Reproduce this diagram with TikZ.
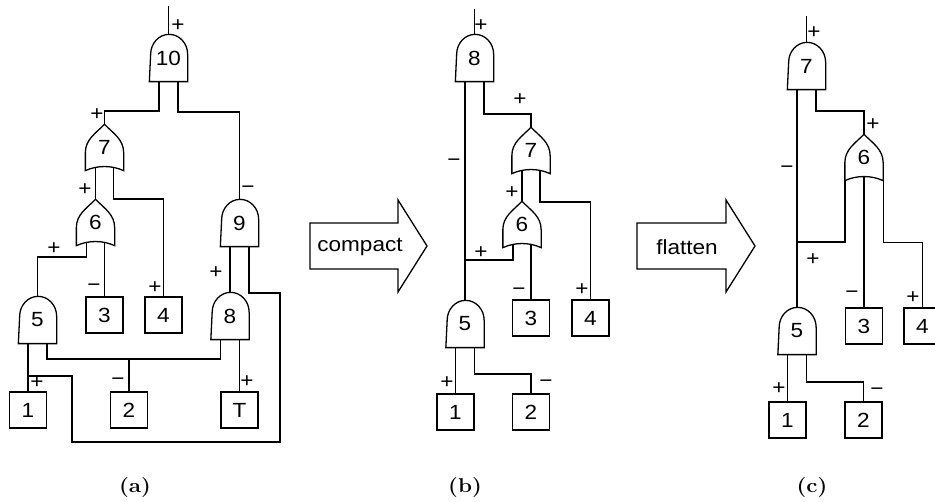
\documentclass[tikz,border=0pt]{standalone}
\usepackage{fontspec}
\usepackage{graphicx}
\newfontfamily\labfont[FakeStretch=1.1]{Liberation Sans}
\usetikzlibrary{backgrounds}
\newdimen\gatexa \newdimen\gateya \newdimen\gatexb \newdimen\gateyb \newdimen\gatexc
\pgfdeclareshape{andgate}{
  \inheritsavedanchors[from=rectangle]
  \inheritanchorborder[from=rectangle]
  \inheritanchor[from=rectangle]{center}
  \inheritanchor[from=rectangle]{north}
  \inheritanchor[from=rectangle]{south}
  \inheritanchor[from=rectangle]{east}
  \inheritanchor[from=rectangle]{west}
  \inheritanchor[from=rectangle]{north east}
  \inheritanchor[from=rectangle]{north west}
  \inheritanchor[from=rectangle]{south east}
  \inheritanchor[from=rectangle]{south west}
  \inheritanchor[from=rectangle]{text}
  \inheritanchor[from=rectangle]{base}
  \inheritanchor[from=rectangle]{mid}
  \backgroundpath{
    \pgfextractx{\gatexa}{\southwest}\pgfextracty{\gateya}{\southwest}
    \pgfextractx{\gatexb}{\northeast}\pgfextracty{\gateyb}{\northeast}
    \pgfpathmoveto{\pgfqpoint{\gatexa}{\gateya}}
    \pgfpathlineto{\pgfqpoint{\gatexb}{\gateya}}
    \pgfpathlineto{\pgfpoint{\gatexb}{\gateyb-20pt}}
    \pgfpatharc{0}{180}{18.5pt and 20pt}
    \pgfpathclose
  }
}
\pgfdeclareshape{orgate}{
  \inheritsavedanchors[from=rectangle]
  \inheritanchorborder[from=rectangle]
  \inheritanchor[from=rectangle]{center}
  \inheritanchor[from=rectangle]{north}
  \inheritanchor[from=rectangle]{south}
  \inheritanchor[from=rectangle]{east}
  \inheritanchor[from=rectangle]{west}
  \inheritanchor[from=rectangle]{north east}
  \inheritanchor[from=rectangle]{north west}
  \inheritanchor[from=rectangle]{south east}
  \inheritanchor[from=rectangle]{south west}
  \inheritanchor[from=rectangle]{text}
  \inheritanchor[from=rectangle]{base}
  \inheritanchor[from=rectangle]{mid}
  \backgroundpath{
    \pgfextractx{\gatexa}{\southwest}\pgfextracty{\gateya}{\southwest}
    \pgfextractx{\gatexb}{\northeast}\pgfextracty{\gateyb}{\northeast}
    \gatexc=.5\gatexa \advance\gatexc by .5\gatexb
    \pgfpathmoveto{\pgfqpoint{\gatexa}{\gateya}}
    \pgfpathlineto{\pgfpoint{\gatexa}{\gateya+18pt}}
    \pgfpathcurveto{\pgfpoint{\gatexa}{\gateya+31pt}}{\pgfpoint{\gatexc-9pt}{\gateyb-9pt}}{\pgfqpoint{\gatexc}{\gateyb}}
    \pgfpathcurveto{\pgfpoint{\gatexc+9pt}{\gateyb-9pt}}{\pgfpoint{\gatexb}{\gateya+31pt}}{\pgfpoint{\gatexb}{\gateya+18pt}}
    \pgfpathlineto{\pgfqpoint{\gatexb}{\gateya}}
    \pgfpathcurveto{\pgfpoint{\gatexc+7pt}{\gateya+5.5pt}}{\pgfpoint{\gatexc-7pt}{\gateya+5.5pt}}{\pgfqpoint{\gatexa}{\gateya}}
    \pgfpathclose
  }
}
\begin{document}
\begin{tikzpicture}[x=1pt,y=-1pt,line width=1.3pt,
  wire/.style={line width=1.3pt},
  lab/.style={font=\labfont\fontsize{20.5}{24}\selectfont},
  andg/.style={shape=andgate,draw,fill=white,minimum width=37pt,minimum height=46pt,inner sep=0pt,lab},
  org/.style={shape=orgate,draw,fill=white,minimum width=37pt,minimum height=45pt,inner sep=0pt,lab},
  leaf/.style={draw,fill=white,minimum width=37pt,minimum height=36pt,inner sep=0pt,lab},
  sgn/.style={inner sep=0pt,lab},
  captxt/.style={inner sep=0pt,font=\fontsize{20}{24}\selectfont},
  bigarrow/.style={draw,line width=1.3pt,line join=miter}
]
\useasboundingbox (0,0) rectangle (935,502);

% ---------- (a) ----------
\coordinate (ta) at (168.5,6);
\node[andg] (g10a) at (168.5,58) {10};
\node[org] (g7a) at (104.5,147.5) {7};
\node[org] (g6a) at (95.5,222.5) {6};
\node[andg] (g9a) at (239.5,223) {9};
\node[andg] (g5a) at (37.5,320) {5};
\node[andg] (g8a) at (230,316) {8};
\node[leaf] (b3a) at (104.5,315) {3};
\node[leaf] (b4a) at (163.5,315) {4};
\node[leaf] (b1a) at (28,410) {1};
\node[leaf] (b2a) at (129,410) {2};
\node[leaf] (bTa) at (239.5,410) {T};

\node[sgn] (sa1) at (178,26) {+};
\node[sgn] (sa2) at (97,115) {+};
\node[sgn] (sa3) at (248,190) {−};
\node[sgn] (sa4) at (85,190) {+};
\node[sgn] (sa5) at (54,249) {+};
\node[sgn] (sa6) at (94,288) {−};
\node[sgn] (sa7) at (155,288) {+};
\node[sgn] (sa8) at (216,273) {+};
\node[sgn] (sa9) at (37,383) {+};
\node[sgn] (sa10) at (118,382) {−};
\node[sgn] (sa11) at (247,382) {+};

% ---------- (b) ----------
\coordinate (tb) at (474.5,9);
\node[andg] (g8b) at (474.5,58) {8};
\node[org] (g7b) at (531,150.5) {7};
\node[org] (g6b) at (522,224.5) {6};
\node[andg] (g5b) at (465,324) {5};
\node[leaf] (b3b) at (531,318) {3};
\node[leaf] (b4b) at (590.5,318) {4};
\node[leaf] (b1b) at (455.5,412) {1};
\node[leaf] (b2b) at (531,412) {2};

\node[sgn] (sb1) at (481,26) {+};
\node[sgn] (sb2) at (454,163) {−};
\node[sgn] (sb3) at (520,100) {+};
\node[sgn] (sb4) at (512,193) {+};
\node[sgn] (sb5) at (481,253) {+};
\node[sgn] (sb6) at (519,292) {−};
\node[sgn] (sb7) at (582,290) {+};
\node[sgn] (sb8) at (447,383) {+};
\node[sgn] (sb9) at (546,384) {−};

% ---------- (c) ----------
\coordinate (tc) at (806.5,16);
\node[andg] (g7c) at (806.5,66) {7};
\node[org] (g6c) at (864,157.5) {6};
\node[andg] (g5c) at (797,331) {5};
\node[leaf] (b3c) at (864,326) {3};
\node[leaf] (b4c) at (922.5,326) {4};
\node[leaf] (b1c) at (787.5,420) {1};
\node[leaf] (b2c) at (863.5,420) {2};

\node[sgn] (sc1) at (814,33) {+};
\node[sgn] (sc2) at (787,170) {−};
\node[sgn] (sc3) at (873,125) {+};
\node[sgn] (sc4) at (813,260) {+};
\node[sgn] (sc5) at (852,295) {−};
\node[sgn] (sc6) at (913,298) {+};
\node[sgn] (sc7) at (779,389) {+};
\node[sgn] (sc8) at (877,392) {−};

% ---------- wires ----------
\begin{scope}[on background layer={wire}]
  % (a)
  \draw[wire] (ta) -- (g10a.north);
  \draw[wire] ([xshift=-9.5pt]g10a.center) -- ++(0,53) -| (g7a.north);
  \draw[wire] ([xshift=9.5pt]g10a.center) -- ++(0,54) -| (g9a.north);
  \draw[wire] ([xshift=-9pt]g7a.center) -- (g6a.north);
  \draw[wire] ([xshift=9pt]g7a.center) -- ++(0,51.5) -| (b4a.north);
  \draw[wire] ([xshift=-9pt]g6a.center) -- ++(0,34.5) -| (g5a.north);
  \draw[wire] ([xshift=9pt]g6a.center) -- (b3a.north);
  \draw[wire] ([xshift=-9.5pt]g9a.center) -- (g8a.north);
  \draw[wire] ([xshift=9.5pt]g9a.center) |- (280,293) |- (72,442) |- (b1a.north |- 0,376);
  \draw[wire] ([xshift=-9.5pt]g5a.center) -- (b1a.north);
  \draw[wire] ([xshift=9.5pt]g5a.center) -- ++(0,39) -| ([xshift=-9.5pt]g8a.center);
  \draw[wire] (b2a.north) -- (b2a.north |- 0,359);
  \draw[wire] ([xshift=9.5pt]g8a.center) -- (bTa.north);
  % (b)
  \draw[wire] (tb) -- (g8b.north);
  \draw[wire] ([xshift=-9.5pt]g8b.center) -- (g5b.north);
  \draw[wire] ([xshift=9.5pt]g8b.center) -- ++(0,56) -| (g7b.north);
  \draw[wire] ([xshift=-9pt]g7b.center) -- (g6b.north);
  \draw[wire] ([xshift=9pt]g7b.center) -- ++(0,51.5) -| (b4b.north);
  \draw[wire] ([xshift=-9pt]g6b.center) |- (g5b.north |- 0,260);
  \draw[wire] ([xshift=9pt]g6b.center) -- (b3b.north);
  \draw[wire] ([xshift=-9.5pt]g5b.center) -- (b1b.north);
  \draw[wire] ([xshift=9.5pt]g5b.center) -- ++(0,50) -| (b2b.north);
  % (c)
  \draw[wire] (tc) -- (g7c.north);
  \draw[wire] ([xshift=-9.5pt]g7c.center) -- (g5c.north);
  \draw[wire] ([xshift=9.5pt]g7c.center) -- ++(0,45) -| (g6c.north);
  \draw[wire] (g6c.south west) |- (g5c.north |- 0,242);
  \draw[wire] (g6c.center) -- (b3c.north);
  \draw[wire] (g6c.south east) -- ++(0,62) -| (b4c.north);
  \draw[wire] ([xshift=-9.5pt]g5c.center) -- (b1c.north);
  \draw[wire] ([xshift=9.5pt]g5c.center) -- ++(0,51) -| (b2c.north);
\end{scope}

% ---------- big arrows ----------
\draw[bigarrow] (310,223) -- (398,223) -- (398,200) -- (427,246) -- (398,292) -- (398,269) -- (310,269) -- cycle;
\node[sgn] (compact) at (360,247) {compact};
\draw[bigarrow] (637,223) -- (726,223) -- (726,200) -- (755,246) -- (726,292) -- (726,269) -- (637,269) -- cycle;
\node[sgn] (flatten) at (687,247) {flatten};

% ---------- captions ----------
\node[captxt] (capa) at (135,488) {\scalebox{1.12}[1]{\bfseries (a)}};
\node[captxt] (capb) at (465,488) {\scalebox{1.12}[1]{\bfseries (b)}};
\node[captxt] (capc) at (812,488) {\scalebox{1.12}[1]{\bfseries (c)}};
\end{tikzpicture}
\end{document}
